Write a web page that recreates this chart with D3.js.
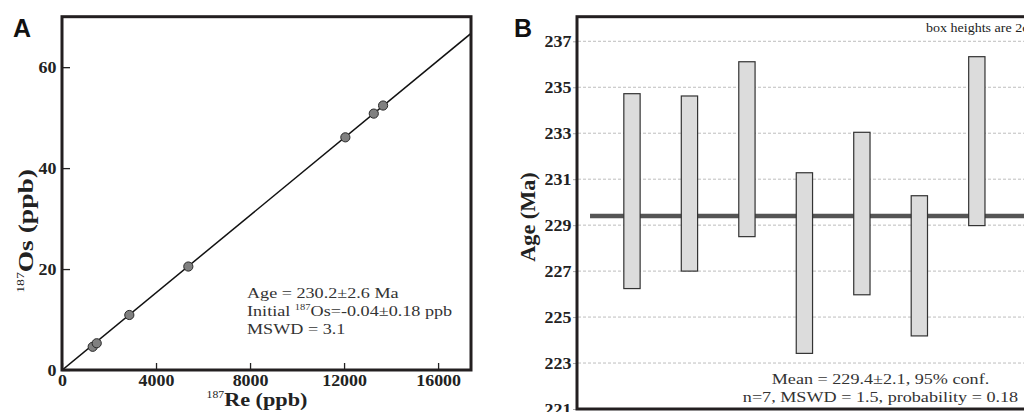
<!DOCTYPE html>
<html><head><meta charset="utf-8">
<script src="https://cdn.jsdelivr.net/npm/d3@7"></script>
<style>body{margin:0;background:#fff;overflow:hidden}</style></head><body>
<svg id="c" width="1024" height="412"></svg>
<script>
// ---- Panel A data: Re-Os isochron ----
const reX   = [1306, 1477, 2864, 5374, 12055, 13264, 13660];
const osY   = [4.6, 5.3, 10.9, 20.5, 46.1, 50.8, 52.4];
const aXTicks = [0, 4000, 8000, 12000, 16000];
const aYTicks = [0, 20, 40, 60];
const isoSlope = 0.003835;
const isoIntercept = -0.04;
const aNotes = ["Age = 230.2±2.6 Ma", "Initial |187|Os=-0.04±0.18 ppb", "MSWD = 3.1"];

// ---- Panel B data: weighted mean ages ----
const boxIdx    = [1, 2, 3, 4, 5, 6, 7];
const boxTop    = [234.72, 234.62, 236.11, 231.28, 233.04, 230.28, 236.33];
const boxBottom = [226.24, 227.00, 228.50, 223.42, 225.97, 224.18, 228.98];
const bYTicks   = [221, 223, 225, 227, 229, 231, 233, 235, 237];
const meanAge   = 229.4;
const bNotes    = ["Mean = 229.4±2.1, 95% conf.", "n=7, MSWD = 1.5, probability = 0.18"];

const svg = d3.select("#c");
const SERIF = "'Liberation Serif','Times New Roman',serif";
const SANS = "'Liberation Sans',Arial,sans-serif";
const SX = 1.17;

function richText(g, str, size, supSize) {
  const parts = str.split("|");
  parts.forEach((p, i) => {
    if (i % 2 === 1) {
      g.append("tspan").attr("font-size", supSize).attr("dy", -size * 0.4).text(p);
    } else {
      const t = g.append("tspan").text(p);
      if (i > 0) t.attr("dy", size * 0.4);
    }
  });
}

// ================= PANEL A =================
const ax = d3.scaleLinear().domain([0, 17400]).range([62, 471]);
const ay = d3.scaleLinear().domain([0, 70]).range([370, 16.7]);

const gA = svg.append("g");
gA.append("defs").append("clipPath").attr("id", "clipA")
  .append("rect").attr("x", ax(0)).attr("y", ay(70)).attr("width", ax(17400) - ax(0)).attr("height", ay(0) - ay(70));

// isochron line
gA.append("line").attr("clip-path", "url(#clipA)")
  .attr("x1", ax(0)).attr("y1", ay(isoIntercept))
  .attr("x2", ax(17400)).attr("y2", ay(isoIntercept + isoSlope * 17400))
  .attr("stroke", "#111").attr("stroke-width", 1.5);

// points
gA.selectAll("circle.pt").data(reX).join("circle").attr("class", "pt")
  .attr("cx", (d) => ax(d)).attr("cy", (d, i) => ay(osY[i])).attr("r", 4.6)
  .attr("fill", "#808080").attr("stroke", "#2a2a2a").attr("stroke-width", 1);

// axes
const axA = gA.append("g").attr("transform", `translate(0,${ay(0)})`)
  .call(d3.axisBottom(ax).tickValues(aXTicks).tickSize(-7).tickPadding(5).tickFormat(d3.format("d")));
const ayA = gA.append("g").attr("transform", `translate(${ax(0)},0)`)
  .call(d3.axisLeft(ay).tickValues(aYTicks).tickSize(-8).tickPadding(5).tickFormat(d3.format("d")));
[axA, ayA].forEach(g => {
  g.select(".domain").remove();
  g.selectAll("line").attr("stroke", "#222").attr("stroke-width", 1.3);
  g.selectAll("text").attr("font-family", SERIF).attr("font-weight", "bold")
    .attr("font-size", 16).attr("fill", "#222").attr("transform", "scale(1.12,1)");
});

// frame
gA.append("rect").attr("x", ax(0)).attr("y", ay(70)).attr("width", ax(17400) - ax(0)).attr("height", ay(0) - ay(70))
  .attr("fill", "none").attr("stroke", "#231f20").attr("stroke-width", 3);

// x title
const xt = gA.append("text").attr("transform", `translate(257,406) scale(${SX},1)`)
  .attr("text-anchor", "middle").attr("font-family", SERIF).attr("fill", "#222");
xt.append("tspan").attr("font-size", 10).attr("dy", -8).text("187");
xt.append("tspan").attr("font-size", 19).attr("font-weight", "bold").attr("dy", 8).text("Re (ppb)");

// y title
const yt = gA.append("text").attr("transform", `translate(33,231) rotate(-90) scale(1.25,1)`)
  .attr("text-anchor", "middle").attr("font-family", SERIF).attr("fill", "#222");
yt.append("tspan").attr("font-size", 11).attr("dy", -9).text("187");
yt.append("tspan").attr("font-size", 22).attr("font-weight", "bold").attr("dy", 9).text("Os (ppb)");

// annotations
aNotes.forEach((s, i) => {
  const t = gA.append("text").attr("transform", `translate(247,${298.3 + i * 18})  scale(${SX},1)`)
    .attr("font-family", SERIF).attr("font-size", 15.5).attr("fill", "#333");
  richText(t, s, 15.5, 9);
});

// panel label
svg.append("text").attr("x", 13).attr("y", 37).attr("font-family", SANS).attr("font-weight", "bold")
  .attr("font-size", 25).attr("fill", "#111").text("A");

// ================= PANEL B =================
const bx = d3.scaleLinear().domain([0, 8]).range([574.5, 1034.3]);
const by = d3.scaleLinear().domain([221, 238.07]).range([409, 16.7]);
const gB = svg.append("g");

// gridlines
gB.selectAll("line.grid").data(bYTicks.filter(d => d > 221)).join("line").attr("class", "grid")
  .attr("x1", 578).attr("x2", 1040).attr("y1", d => by(d)).attr("y2", d => by(d))
  .attr("stroke", "#bdbdbd").attr("stroke-width", 1).attr("stroke-dasharray", "3,2");

// mean line
gB.append("line").attr("x1", bx(0.27)).attr("x2", bx(9)).attr("y1", by(meanAge)).attr("y2", by(meanAge))
  .attr("stroke", "#555").attr("stroke-width", 4.5);

// boxes
const bw = 16.3;
gB.selectAll("rect.box").data(boxIdx).join("rect").attr("class", "box")
  .attr("x", d => bx(d) - bw / 2).attr("width", bw)
  .attr("y", (d, i) => by(boxTop[i])).attr("height", (d, i) => by(boxBottom[i]) - by(boxTop[i]))
  .attr("fill", "#dcdcdc").attr("stroke", "#333").attr("stroke-width", 1.2);

// y axis
const ayB = gB.append("g").attr("transform", `translate(577,0)`)
  .call(d3.axisLeft(by).tickValues(bYTicks).tickSize(4).tickPadding(1).tickFormat(d3.format("d")));
ayB.select(".domain").remove();
ayB.selectAll("line").attr("stroke", "#aaa").attr("stroke-width", 1);
ayB.selectAll("text").attr("font-family", SERIF).attr("font-weight", "bold")
  .attr("font-size", 16).attr("fill", "#222").attr("transform", "scale(1.12,1)");

// frame
gB.append("rect").attr("x", 577).attr("y", by(238.07)).attr("width", 480).attr("height", by(221) - by(238.07))
  .attr("fill", "none").attr("stroke", "#231f20").attr("stroke-width", 3);

// y title
gB.append("text").attr("transform", `translate(535,217) rotate(-90) scale(1.06,1)`)
  .attr("text-anchor", "middle").attr("font-family", SERIF).attr("font-weight", "bold")
  .attr("font-size", 21).attr("fill", "#222").text("Age (Ma)");

// notes
gB.append("text").attr("transform", `translate(926,32) scale(${SX},1)`)
  .attr("font-family", SERIF).attr("font-size", 12).attr("fill", "#222").text("box heights are 2σ");
bNotes.forEach((s, i) => {
  gB.append("text").attr("transform", `translate(880.5,${384 + i * 18}) scale(${SX},1)`)
    .attr("text-anchor", "middle").attr("font-family", SERIF).attr("font-size", 15.5).attr("fill", "#333").text(s);
});

svg.append("text").attr("x", 514).attr("y", 37).attr("font-family", SANS).attr("font-weight", "bold")
  .attr("font-size", 25).attr("fill", "#111").text("B");
</script>
</body></html>
